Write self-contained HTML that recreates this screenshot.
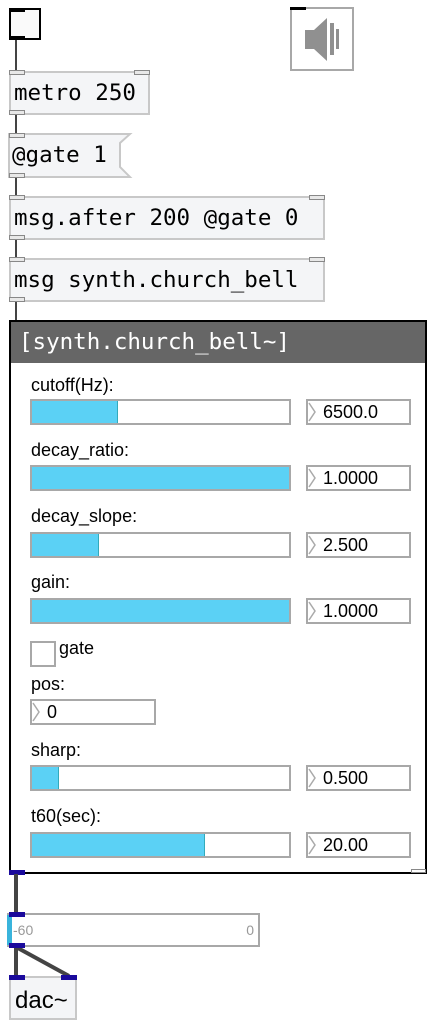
<!DOCTYPE html>
<html><head><meta charset="utf-8"><style>
body{margin:0;width:432px;height:1024px;background:#fff;position:relative;overflow:hidden}
div{position:absolute;box-sizing:border-box}
.obj{background:#f4f5f7;border:2px solid #c8c8c8;font-family:"DejaVu Sans Mono","Liberation Mono",monospace;font-size:22.5px;color:#000;padding-left:3px;line-height:40px;white-space:nowrap}
.io{background:#e8e8e8;border:1.5px solid #888;width:16px;height:5px}
.w{background:#444}
.lbl{font-family:"Liberation Sans",sans-serif;font-size:18px;color:#000;left:31px;white-space:nowrap}
.sl{left:30px;width:261px;height:26px;border:2px solid #a8a8a8;background:#fff}
.sl i{position:absolute;left:0;top:0;bottom:0;background:#5bd1f5}
.nb{left:306px;width:105px;height:26px;border:2px solid #a8a8a8;background:#fff;font-family:"Liberation Sans",sans-serif;font-size:18px;line-height:22px;padding-left:15px}
.nb svg{position:absolute;left:0;top:0}
.bl{background:#1a0a9c;width:16px;height:5px}
</style></head><body>
<!-- toggle -->
<div style="left:9px;top:8px;width:32px;height:32px;border:2px solid #000;background:#fafafa"></div>
<div style="left:9px;top:8px;width:16px;height:4px;background:#000"></div>
<div style="left:9px;top:36px;width:16px;height:4px;background:#000"></div>
<!-- speaker -->
<div style="left:290px;top:7px;width:64px;height:64px;border:2px solid #a8a8a8;background:#fff">
<svg width="60" height="60" style="position:absolute;left:0;top:0"><polygon points="13,21 22,21 35,9 35,52 22,40 13,40" fill="#909090"/><rect x="38" y="14" width="4" height="32" fill="#909090"/><rect x="44" y="20" width="3" height="20" fill="#909090"/></svg></div>
<div style="left:290px;top:7px;width:16px;height:3px;background:#000"></div>
<!-- wires -->
<div class="w" style="left:15px;top:40px;width:2px;height:32px"></div>
<div class="w" style="left:15px;top:115px;width:2px;height:20px"></div>
<div class="w" style="left:15px;top:177px;width:2px;height:20px"></div>
<div class="w" style="left:15px;top:240px;width:2px;height:20px"></div>
<div class="w" style="left:15px;top:302px;width:2px;height:20px"></div>
<!-- objects -->
<div class="obj" style="left:9px;top:71px;width:141px;height:44px">metro 250</div>
<div class="io" style="left:9px;top:70px"></div><div class="io" style="left:134px;top:70px"></div><div class="io" style="left:9px;top:110px"></div>
<svg width="135" height="46" style="position:absolute;left:8px;top:133px"><polygon points="1,1 122,1 112,10 112,34 122,44 1,44" fill="#f4f5f7" stroke="#c8c8c8" stroke-width="2"/></svg>
<div style="left:12px;top:134px;font-family:'DejaVu Sans Mono',monospace;font-size:22.5px;line-height:43px">@gate 1</div>
<div class="io" style="left:9px;top:133px"></div><div class="io" style="left:9px;top:173px"></div>
<div class="obj" style="left:9px;top:196px;width:316px;height:44px">msg.after 200 @gate 0</div>
<div class="io" style="left:9px;top:195px"></div><div class="io" style="left:309px;top:195px"></div><div class="io" style="left:9px;top:235px"></div>
<div class="obj" style="left:9px;top:258px;width:316px;height:44px">msg synth.church_bell</div>
<div class="io" style="left:9px;top:257px"></div><div class="io" style="left:309px;top:257px"></div><div class="io" style="left:9px;top:297px"></div>
<!-- panel -->
<div style="left:9px;top:320px;width:418px;height:554px;border:2px solid #000;background:#fff"></div>
<div style="left:11px;top:322px;width:414px;height:41px;background:#666;color:#fff;font-family:'DejaVu Sans Mono',monospace;font-size:22.5px;line-height:40px;padding-left:8px">[synth.church_bell~]</div>
<div class="lbl" style="top:375px">cutoff(Hz):</div>
<div class="sl" style="top:399px"><i style="width:85px;border-right:1px solid #3ab"></i></div>
<div class="nb" style="top:399px"><svg width="10" height="22"><polyline points="1,2 7,11 1,20" fill="none" stroke="#aaa" stroke-width="1.5"/></svg>6500.0</div>
<div class="lbl" style="top:440px">decay_ratio:</div>
<div class="sl" style="top:465px"><i style="width:257px"></i></div>
<div class="nb" style="top:465px"><svg width="10" height="22"><polyline points="1,2 7,11 1,20" fill="none" stroke="#aaa" stroke-width="1.5"/></svg>1.0000</div>
<div class="lbl" style="top:506px">decay_slope:</div>
<div class="sl" style="top:532px"><i style="width:66px;border-right:1px solid #3ab"></i></div>
<div class="nb" style="top:532px"><svg width="10" height="22"><polyline points="1,2 7,11 1,20" fill="none" stroke="#aaa" stroke-width="1.5"/></svg>2.500</div>
<div class="lbl" style="top:572px">gain:</div>
<div class="sl" style="top:598px"><i style="width:257px"></i></div>
<div class="nb" style="top:598px"><svg width="10" height="22"><polyline points="1,2 7,11 1,20" fill="none" stroke="#aaa" stroke-width="1.5"/></svg>1.0000</div>
<div style="left:30px;top:641px;width:26px;height:26px;border:2px solid #a8a8a8"></div>
<div class="lbl" style="top:638px;left:59px">gate</div>
<div class="lbl" style="top:674px">pos:</div>
<div class="nb" style="top:699px;left:30px;width:126px"><svg width="10" height="22"><polyline points="1,2 7,11 1,20" fill="none" stroke="#aaa" stroke-width="1.5"/></svg>0</div>
<div class="lbl" style="top:740px">sharp:</div>
<div class="sl" style="top:765px"><i style="width:26px;border-right:1px solid #3ab"></i></div>
<div class="nb" style="top:765px"><svg width="10" height="22"><polyline points="1,2 7,11 1,20" fill="none" stroke="#aaa" stroke-width="1.5"/></svg>0.500</div>
<div class="lbl" style="top:806px">t60(sec):</div>
<div class="sl" style="top:832px"><i style="width:172px;border-right:1px solid #3ab"></i></div>
<div class="nb" style="top:832px"><svg width="10" height="22"><polyline points="1,2 7,11 1,20" fill="none" stroke="#aaa" stroke-width="1.5"/></svg>20.00</div>
<div style="left:411px;top:869px;width:15px;height:4px;border:1px solid #888;background:#fff"></div>
<div class="bl" style="left:9px;top:870px"></div>
<!-- signal wires -->
<div class="w" style="left:14px;top:874px;width:4px;height:40px"></div>
<div class="w" style="left:14px;top:947px;width:4px;height:30px"></div>
<svg width="80" height="40" style="position:absolute;left:0;top:944px"><line x1="16" y1="3" x2="69" y2="32" stroke="#444" stroke-width="4"/></svg>
<!-- meter -->
<div style="left:7px;top:913px;width:253px;height:34px;border:2px solid #a8a8a8;background:#fff;font-family:'Liberation Sans',sans-serif;font-size:14px;color:#999;line-height:30px"><span style="position:absolute;left:4px">-60</span><span style="position:absolute;right:4px">0</span></div>
<div style="left:7px;top:915px;width:5px;height:30px;background:#39b4dc"></div>
<div class="bl" style="left:9px;top:912px"></div><div class="bl" style="left:9px;top:943px"></div>
<!-- dac -->
<div class="obj" style="left:9px;top:976px;width:68px;height:44px;font-family:'Liberation Sans',sans-serif;font-size:24px;padding-left:4px;line-height:46px">dac~</div>
<div class="bl" style="left:9px;top:975px"></div><div class="bl" style="left:61px;top:975px"></div>
</body></html>
